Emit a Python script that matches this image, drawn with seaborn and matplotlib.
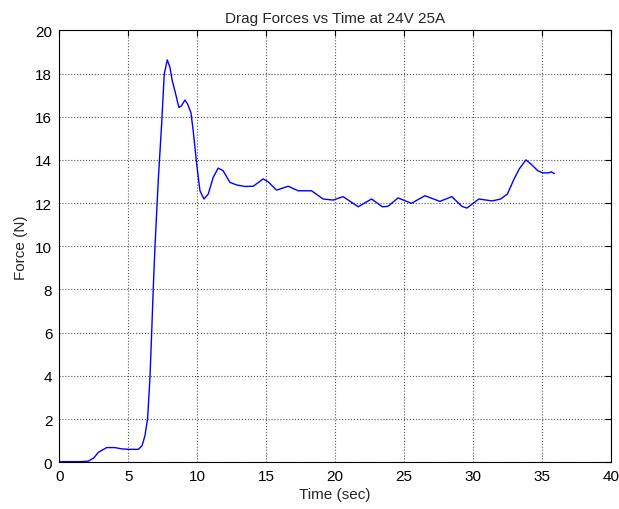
import matplotlib
matplotlib.use("Agg")
import matplotlib.pyplot as plt
import seaborn as sns
import pandas as pd

time_sec = [0.0, 0.5, 1.0, 1.5, 2.1, 2.5, 2.83, 3.43, 4.04, 4.52, 5.0, 5.73, 6.0, 6.21, 6.4,
            6.57, 6.69, 6.81, 6.93, 7.06, 7.18, 7.42, 7.61, 7.83, 8.02, 8.19, 8.38, 8.67,
            8.86, 9.11, 9.3, 9.54, 9.71, 9.96, 10.2, 10.49, 10.8, 11.16, 11.52, 11.88,
            12.37, 12.86, 13.46, 14.06, 14.78, 15.14, 15.75, 16.6, 17.32, 18.29, 19.13,
            19.86, 20.58, 21.67, 22.64, 23.43, 23.83, 24.56, 25.53, 26.51, 27.6, 28.46,
            29.19, 29.56, 30.42, 31.39, 32.0, 32.49, 32.98, 33.35, 33.83, 34.2, 34.69,
            35.05, 35.49, 35.66, 35.9]
force_n = [0.03, 0.03, 0.03, 0.03, 0.05, 0.2, 0.46, 0.68, 0.68, 0.62, 0.6, 0.6, 0.77, 1.23, 2.0,
           3.86, 5.86, 8.0, 9.87, 11.57, 13.1, 15.66, 17.98, 18.63, 18.29, 17.67, 17.2, 16.43,
           16.51, 16.77, 16.59, 16.2, 15.35, 13.81, 12.57, 12.19, 12.42, 13.19, 13.62, 13.5,
           12.96, 12.84, 12.77, 12.78, 13.12, 12.99, 12.6, 12.78, 12.57, 12.57, 12.19,
           12.14, 12.3, 11.83, 12.19, 11.83, 11.85, 12.24, 11.99, 12.34, 12.08, 12.3,
           11.85, 11.77, 12.19, 12.1, 12.19, 12.42, 13.12, 13.58, 14.0, 13.81, 13.5,
           13.4, 13.4, 13.45, 13.37]

x_ticks = [0, 5, 10, 15, 20, 25, 30, 35, 40]
y_ticks = [0, 2, 4, 6, 8, 10, 12, 14, 16, 18, 20]

sns.set_style("white")
plt.rcParams['font.family'] = ['Liberation Sans', 'DejaVu Sans']

df = pd.DataFrame({"Time": time_sec, "Force": force_n})

fig = plt.figure(figsize=(6.19, 5.10), dpi=100)
ax = fig.add_axes([0.0958, 0.0916, 0.8912, 0.847])
sns.lineplot(data=df, x="Time", y="Force", ax=ax, color="#0000ff", linewidth=1.0, sort=False)

fs = 11
ax.set_xlim(0, 40)
ax.set_ylim(0, 20)
ax.set_xticks(x_ticks)
ax.set_yticks(y_ticks)
ax.set_xticklabels([str(t) for t in x_ticks], fontsize=fs)
ax.set_yticklabels([str(t) for t in y_ticks], fontsize=fs)
ax.tick_params(direction="in", top=True, right=True, length=4, width=0.8, colors="black")
ax.tick_params(axis="x", pad=5)
ax.tick_params(axis="y", pad=5)
ax.grid(True, linestyle=":", color="#555555", linewidth=0.8)
for s in ax.spines.values():
    s.set_color("black")
    s.set_linewidth(0.8)
ax.set_xlabel("Time (sec)", fontsize=fs, labelpad=3)
ax.set_ylabel("Force (N)", fontsize=fs, labelpad=5)
ax.set_title("Drag Forces vs Time at 24V 25A", fontsize=fs, pad=6)

fig.savefig("out.png", dpi=100, facecolor="white")
